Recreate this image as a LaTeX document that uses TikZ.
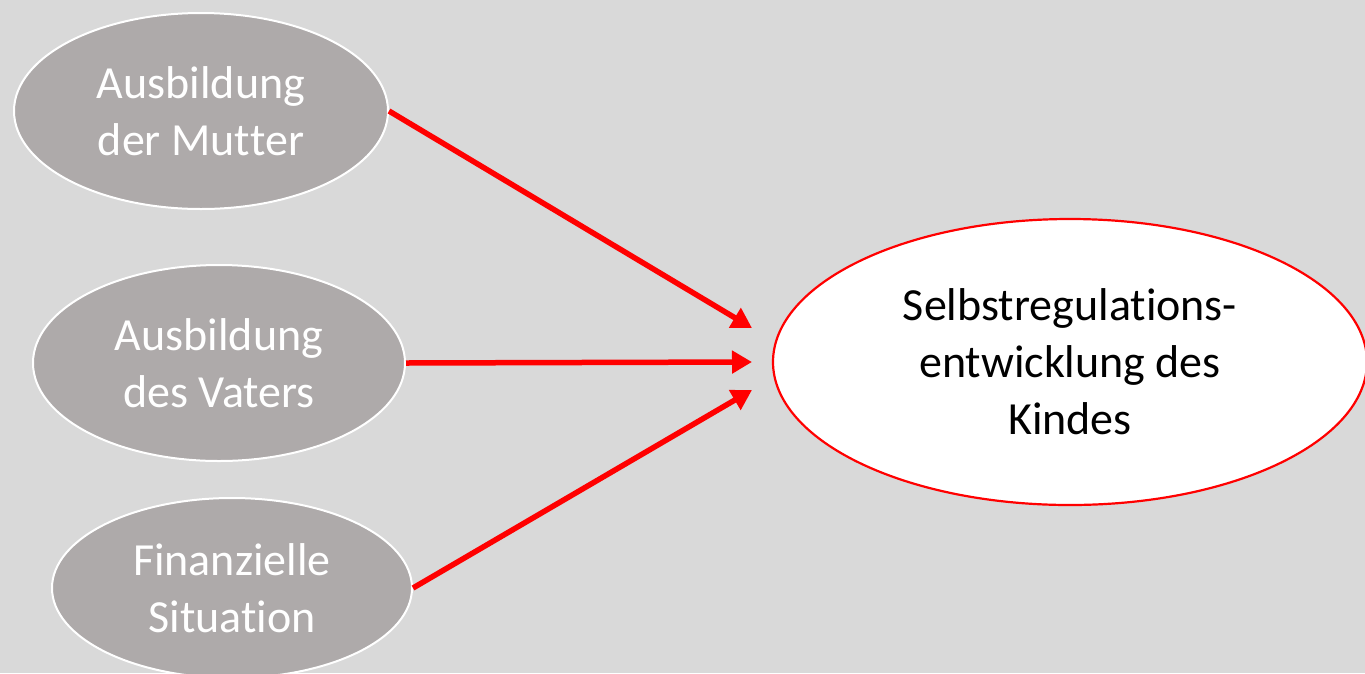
\documentclass[tikz,border=0pt]{standalone}
\usepackage{fontspec}
\setmainfont{Carlito}[Ligatures={NoCommon,NoContextual},Contextuals=NoAlternate]
\usetikzlibrary{shapes.geometric,arrows.meta}
\definecolor{bgray}{HTML}{D9D9D9}
\definecolor{factor}{HTML}{AEAAAA}
\definecolor{linkred}{HTML}{FF0000}
% a zero kern keeps t+t and t+i as separate glyphs
\newcommand{\nolig}{\kern0pt\relax}
\tikzset{
  factorbox/.style={ellipse, fill=factor, draw=white, line width=2pt,
    text=white, align=center, inner sep=0pt,
    font=\fontsize{46}{57}\selectfont},
  outcomebox/.style={ellipse, fill=white, draw=linkred, line width=2.2pt,
    text=black, align=center, inner sep=0pt,
    font=\fontsize{46}{57}\selectfont},
  effect/.style={draw=linkred, line width=5.5pt,
    -{Triangle[length=20pt,width=22pt]}}
}
\begin{document}
\begin{tikzpicture}[x=1pt,y=-1pt]
  \fill[bgray] (0,0) rectangle (1365,673);
  \useasboundingbox (0,0) rectangle (1365,673);
  \clip (0,0) rectangle (1365,673);

  \node[factorbox, minimum width=374pt, minimum height=196pt] (m) at (201,111)
    {Ausbildung\\der Mut\nolig ter};
  \node[factorbox, minimum width=372pt, minimum height=196pt] (v) at (219,363)
    {Ausbildung\\des Vaters};
  \node[factorbox, minimum width=360pt, minimum height=180pt] (f) at (232,588)
    {Finanzielle\\Situat\nolig ion};
  \node[outcomebox, minimum width=594pt, minimum height=286pt] (k) at (1070,362)
    {Selbstregulat\nolig ions-\\entwicklung des\\Kindes};

  \coordinate (t1) at (752,328);
  \coordinate (t2) at (752,362);
  \coordinate (t3) at (752,390);

  \draw[effect] (m.east) -- (t1);
  \draw[effect] (v.east) -- (t2);
  \draw[effect] (f.east) -- (t3);
\end{tikzpicture}
\end{document}
